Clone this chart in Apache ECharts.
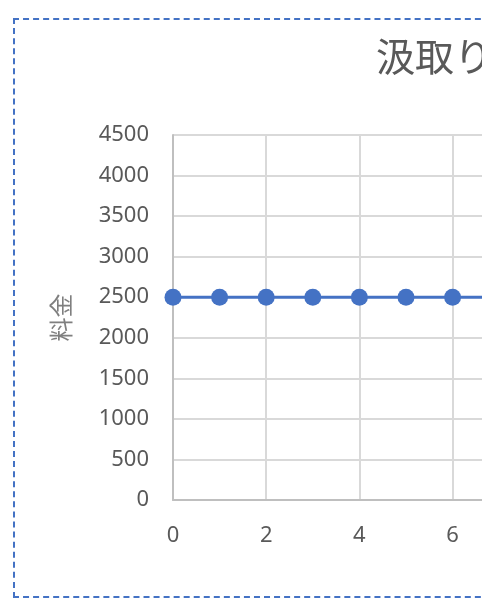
<!DOCTYPE html>
<html>
<head>
<meta charset="utf-8">
<script src="https://cdn.jsdelivr.net/npm/echarts@6/dist/echarts.min.js"></script>
<style>
  html, body { margin: 0; padding: 0; overflow: hidden; background: #fff; }
  #frame {
    position: absolute; left: 13px; top: 18px;
    width: 1000px; height: 580px;
    box-sizing: border-box;
    border: 2px dashed #4472c4;
  }
  #chart { width: 100%; height: 100%; }
</style>
</head>
<body>
<div id="frame"><div id="chart"></div></div>
<script>
// data
const titleText = '汲取り料金';
const yName = '料金';
const xValues = [0, 1, 2, 3, 4, 5, 6, 7, 8, 9, 10];
const fees = [2500, 2500, 2500, 2500, 2500, 2500, 2500, 2500, 2500, 2500, 2500];

const font = '"Noto Sans", "Noto Sans CJK JP", sans-serif';
const gray = '#595959';

const chart = echarts.init(document.getElementById('chart'));
chart.setOption({
  animation: false,
  title: {
    text: titleText,
    left: 356,
    top: 12,
    textStyle: { fontFamily: '"Noto Sans CJK JP", sans-serif', fontSize: 39, fontWeight: 'normal', color: gray }
  },
  grid: { left: 158, top: 115, bottom: 96, right: 372 },
  xAxis: {
    type: 'value',
    min: 0,
    max: 10,
    interval: 2,
    axisLine: { show: true, lineStyle: { color: '#bfbfbf', width: 2 } },
    axisTick: { show: false },
    splitLine: { show: true, lineStyle: { color: '#d9d9d9', width: 2 } },
    axisLabel: { margin: 25, fontFamily: font, fontSize: 22, color: gray }
  },
  yAxis: {
    type: 'value',
    min: 0,
    max: 4500,
    interval: 500,
    name: yName,
    nameLocation: 'middle',
    nameGap: 100,
    nameRotate: 90,
    nameTextStyle: { fontFamily: '"Noto Sans CJK JP", sans-serif', fontSize: 24, color: '#7f7f7f' },
    axisLine: { show: true, lineStyle: { color: '#bfbfbf', width: 2 } },
    axisTick: { show: false },
    splitLine: { show: true, lineStyle: { color: '#d9d9d9', width: 2 } },
    axisLabel: {
      margin: 24, fontFamily: font, fontSize: 22, color: gray,
      formatter: v => String(v)
    }
  },
  series: [{
    type: 'line',
    data: xValues.map((x, i) => [x, fees[i]]),
    symbol: 'circle',
    symbolSize: 17,
    itemStyle: { color: '#4472c4' },
    lineStyle: { color: '#4472c4', width: 3 }
  }]
});
window.addEventListener('resize', () => chart.resize());
</script>
</body>
</html>
